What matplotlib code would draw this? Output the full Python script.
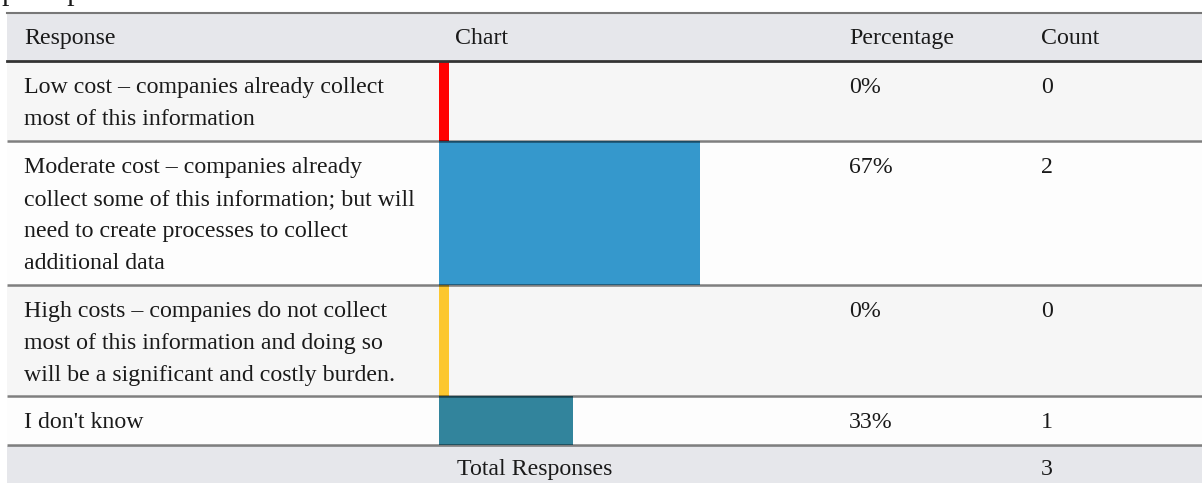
import matplotlib
matplotlib.use("Agg")
import matplotlib.pyplot as plt
from matplotlib.patches import Rectangle

# ---- data ----
headers = ["Response", "Chart", "Percentage", "Count"]
responses = [
    ["Low cost \u2013 companies already collect", "most of this information"],
    ["Moderate cost \u2013 companies already", "collect some of this information; but will",
     "need to create processes to collect", "additional data"],
    ["High costs \u2013 companies do not collect", "most of this information and doing so",
     "will be a significant and costly burden."],
    ["I don't know"],
]
percentages = [0, 67, 0, 33]
counts = [0, 2, 0, 1]
bar_colors = ["#ff0000", "#3598cc", "#fcc72f", "#32849c"]
total_label = "Total Responses"
total_count = 3

# ---- layout (pixels) ----
W, H = 1202, 483
DPI = 100
FS = 17.2
FONT = "Liberation Serif"
TXT = "#1a1a1a"
x_left, x_right = 7, 1202
col_x = [24, 455, 849, 1041]
row_tops = [62, 142, 286, 397]
row_bottoms = [140, 284, 395, 444]
row_bgs = ["#f6f6f6", "#fdfdfd", "#f6f6f6", "#fdfdfd"]
header_top, header_bot = 13, 60
total_top = 446
line_h = 32
base_off = 31

fig = plt.figure(figsize=(W / DPI, H / DPI), dpi=DPI)
fig.patch.set_facecolor("white")

ax = fig.add_axes([0, 0, 1, 1])
ax.set_xlim(0, W)
ax.set_ylim(H, 0)
ax.axis("off")

# cut-off text at top (only descenders visible in the reference)
ax.text(1, -0.5, "perhaps", fontsize=FS * 1.25, family=FONT, color=TXT,
        va="baseline", ha="left")

# header
ax.add_patch(Rectangle((x_left, header_top), x_right - x_left, header_bot - header_top,
                       facecolor="#e6e7eb", edgecolor="none"))
for x, h in zip(col_x, headers):
    ax.text(x, header_top + base_off, h, fontsize=FS, family=FONT, color=TXT,
            va="baseline", ha="left")

# rows
for i, (lines, pct, cnt) in enumerate(zip(responses, percentages, counts)):
    top, bot = row_tops[i], row_bottoms[i]
    ax.add_patch(Rectangle((x_left, top), x_right - x_left, bot - top,
                           facecolor=row_bgs[i], edgecolor="none"))
    for j, ln in enumerate(lines):
        ax.text(col_x[0], top + base_off + j * line_h, ln, fontsize=FS, family=FONT,
                color=TXT, va="baseline", ha="left")
    ax.text(col_x[2], top + base_off, f"{pct}%", fontsize=FS, family=FONT, color=TXT,
            va="baseline", ha="left")
    ax.text(col_x[3], top + base_off, str(cnt), fontsize=FS, family=FONT, color=TXT,
            va="baseline", ha="left")

# total row
ax.add_patch(Rectangle((x_left, total_top), x_right - x_left, H - total_top,
                       facecolor="#e6e7eb", edgecolor="none"))
ax.text(457, total_top + 29, total_label, fontsize=FS, family=FONT, color=TXT,
        va="baseline", ha="left")
ax.text(col_x[3], total_top + 29, str(total_count), fontsize=FS, family=FONT, color=TXT,
        va="baseline", ha="left")

# bar axes: 0% => 10px stub, 100% => 375px more
bar_x0 = 439
stub = 10 / 375 * 100
bar_w_px = 10 + 375
bax = fig.add_axes([bar_x0 / W, 0, bar_w_px / W, 1])
bax.set_xlim(-stub, 100)
bax.set_ylim(H, 0)
bax.axis("off")
bax.patch.set_alpha(0)
centers = [(t + b) / 2 for t, b in zip(row_tops, row_bottoms)]
heights = [b - t + 2 for t, b in zip(row_tops, row_bottoms)]
bax.barh(centers, [p + stub for p in percentages], left=-stub, height=heights,
         color=bar_colors, edgecolor="none")

# overlay lines
lax = fig.add_axes([0, 0, 1, 1])
lax.set_xlim(0, W)
lax.set_ylim(H, 0)
lax.axis("off")
lax.patch.set_alpha(0)
lax.plot([x_left, x_right], [12.8, 12.8], color="#777777", lw=1.5)
lax.plot([x_left, x_right], [61, 61], color="#333333", lw=2.0)
for y in [141, 285, 396, 445]:
    lax.plot([x_left, x_right], [y, y], color=(0, 0, 0, 0.5), lw=1.8, solid_capstyle="butt")

fig.savefig("out.png", dpi=DPI)
